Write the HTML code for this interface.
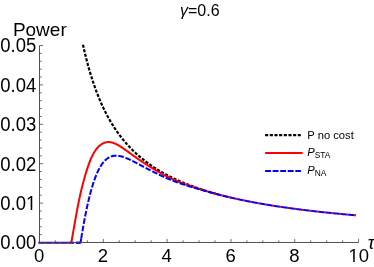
<!DOCTYPE html>
<html><head><meta charset="utf-8"><title>plot</title>
<style>
html,body{margin:0;padding:0;background:#fff;}
body{width:374px;height:267px;overflow:hidden;}
svg{display:block;will-change:transform;}
text{font-family:"Liberation Sans",sans-serif;fill:#000;}
.tk{font-size:18.5px;}
.ax line{stroke:#3d3d3d;stroke-width:0.9;}
.ax line.t{stroke:#4a4a4a;stroke-width:0.8;}
.crv{fill:none;stroke-width:2;}
</style></head><body>
<svg width="374" height="267" viewBox="0 0 374 267">
<rect width="374" height="267" fill="#fff"/>
<path class="crv" stroke="#000" style="stroke-width:2.2" stroke-dasharray="3.1 1.57" d="M82.98 44.71 L83.20 45.73 L83.43 46.74 L83.66 47.74 L83.88 48.73 L84.11 49.71 L84.33 50.68 L84.56 51.64 L84.78 52.59 L85.01 53.53 L85.23 54.46 L85.46 55.38 L85.68 56.29 L85.91 57.20 L86.13 58.09 L86.36 58.98 L86.58 59.86 L86.81 60.73 L87.04 61.59 L87.26 62.44 L87.49 63.29 L87.71 64.13 L87.94 64.96 L88.16 65.78 L88.39 66.59 L88.61 67.40 L88.84 68.20 L89.06 68.99 L89.29 69.78 L89.51 70.56 L89.74 71.33 L89.97 72.09 L90.19 72.85 L90.42 73.60 L90.64 74.35 L90.87 75.08 L91.09 75.81 L91.32 76.54 L91.54 77.26 L91.77 77.97 L91.99 78.68 L92.22 79.38 L92.44 80.07 L92.67 80.76 L92.89 81.44 L93.12 82.12 L93.35 82.79 L93.57 83.46 L93.80 84.12 L94.02 84.77 L94.25 85.42 L94.47 86.06 L94.70 86.70 L94.92 87.34 L95.15 87.97 L95.37 88.59 L95.60 89.21 L95.82 89.82 L96.05 90.43 L96.28 91.03 L96.50 91.63 L96.73 92.23 L96.95 92.81 L97.18 93.40 L97.40 93.98 L97.63 94.56 L97.85 95.13 L98.08 95.69 L98.30 96.26 L98.53 96.82 L98.75 97.37 L98.98 97.92 L99.21 98.46 L99.43 99.01 L99.66 99.54 L99.88 100.08 L100.11 100.61 L100.33 101.13 L100.56 101.65 L100.78 102.17 L101.01 102.69 L101.23 103.20 L101.46 103.70 L101.68 104.21 L101.91 104.71 L102.13 105.20 L102.36 105.69 L102.59 106.18 L102.81 106.67 L103.04 107.15 L103.26 107.63 L103.49 108.10 L103.71 108.58 L103.94 109.04 L104.16 109.51 L104.39 109.97 L104.61 110.43 L104.84 110.88 L105.06 111.34 L105.29 111.79 L105.52 112.23 L105.74 112.68 L105.97 113.12 L106.19 113.55 L106.42 113.99 L106.64 114.42 L106.87 114.85 L107.09 115.27 L107.32 115.70 L107.54 116.12 L107.77 116.53 L107.99 116.95 L108.22 117.36 L108.44 117.77 L108.67 118.17 L108.90 118.58 L109.12 118.98 L109.35 119.38 L109.57 119.77 L109.80 120.17 L110.02 120.56 L110.25 120.95 L110.47 121.33 L110.70 121.72 L110.92 122.10 L111.15 122.48 L111.37 122.85 L111.60 123.23 L111.83 123.60 L112.05 123.97 L112.28 124.33 L112.50 124.70 L112.73 125.06 L112.95 125.42 L113.18 125.78 L113.40 126.14 L113.63 126.49 L113.85 126.84 L114.08 127.19 L114.30 127.54 L114.53 127.88 L114.75 128.23 L114.98 128.57 L115.21 128.91 L115.43 129.24 L115.66 129.58 L115.88 129.91 L116.11 130.24 L116.33 130.57 L116.56 130.90 L116.78 131.23 L117.01 131.55 L117.23 131.87 L117.46 132.19 L117.68 132.51 L117.91 132.83 L118.14 133.14 L118.36 133.45 L118.59 133.76 L118.81 134.07 L119.04 134.38 L119.26 134.68 L119.49 134.99 L119.71 135.29 L119.94 135.59 L120.16 135.89 L120.39 136.19 L120.61 136.48 L120.84 136.78 L121.07 137.07 L121.29 137.36 L121.52 137.65 L121.74 137.93 L121.97 138.22 L122.19 138.50 L122.42 138.79 L122.64 139.07 L122.87 139.35 L123.09 139.63 L123.32 139.90 L123.54 140.18 L123.77 140.45 L123.99 140.72 L124.22 140.99 L124.45 141.26 L124.67 141.53 L124.90 141.80 L125.12 142.06 L125.35 142.33 L125.57 142.59 L125.80 142.85 L126.02 143.11 L126.25 143.37 L126.47 143.62 L126.70 143.88 L126.92 144.13 L127.15 144.39 L127.38 144.64 L127.60 144.89 L127.83 145.14 L128.05 145.39 L128.28 145.63 L128.50 145.88 L128.73 146.12 L128.95 146.36 L129.18 146.61 L129.40 146.85 L129.63 147.09 L129.85 147.32 L130.08 147.56 L130.30 147.80 L130.53 148.03 L130.76 148.26 L130.98 148.50 L131.21 148.73 L131.43 148.96 L131.66 149.19 L131.88 149.41 L132.11 149.64 L132.33 149.86 L132.56 150.09 L132.78 150.31 L133.01 150.53 L133.23 150.76 L133.46 150.98 L133.69 151.19 L133.91 151.41 L134.14 151.63 L134.36 151.85 L134.59 152.06 L134.81 152.27 L135.04 152.49 L135.26 152.70 L135.49 152.91 L135.71 153.12 L135.94 153.33 L136.16 153.54 L136.39 153.74 L136.62 153.95 L136.84 154.15 L137.07 154.36 L137.29 154.56 L137.52 154.76 L137.74 154.96 L137.97 155.17 L138.19 155.36 L138.42 155.56 L138.64 155.76 L138.87 155.96 L139.09 156.15 L139.32 156.35 L139.54 156.54 L139.77 156.74 L140.00 156.93 L140.22 157.12 L140.45 157.31 L140.67 157.50 L140.90 157.69 L141.12 157.88 L141.35 158.06 L141.57 158.25 L141.80 158.44 L142.02 158.62 L142.25 158.80 L142.47 158.99 L142.70 159.17 L142.93 159.35 L143.15 159.53 L143.38 159.71 L143.60 159.89 L143.83 160.07 L144.05 160.25 L144.28 160.42 L144.50 160.60 L144.73 160.78 L144.95 160.95 L145.18 161.12 L145.40 161.30 L145.63 161.47 L145.85 161.64 L146.08 161.81 L146.31 161.98 L146.53 162.15 L146.76 162.32 L146.98 162.49 L147.21 162.66 L147.43 162.82 L147.66 162.99 L147.88 163.16 L148.11 163.32 L148.33 163.48 L148.56 163.65 L148.78 163.81 L149.01 163.97 L149.24 164.13 L149.46 164.29 L149.69 164.45 L149.91 164.61 L150.14 164.77 L150.36 164.93 L150.59 165.09 L150.81 165.24 L151.04 165.40 L151.26 165.56 L151.49 165.71 L151.71 165.86 L151.94 166.02 L152.17 166.17 L152.39 166.32 L152.62 166.48 L152.84 166.63 L153.07 166.78 L153.29 166.93 L153.52 167.08 L153.74 167.22 L153.97 167.37 L154.19 167.52 L154.42 167.67 L154.64 167.81 L154.87 167.96 L155.09 168.11 L155.32 168.25 L155.55 168.39 L155.77 168.54 L156.00 168.68 L156.22 168.82 L156.45 168.97 L156.67 169.11 L156.90 169.25 L157.12 169.39 L157.35 169.53 L157.57 169.67 L157.80 169.81 L158.02 169.94 L158.25 170.08 L158.48 170.22 L158.70 170.36 L158.93 170.49 L159.15 170.63 L159.38 170.76 L159.60 170.90 L159.83 171.03 L160.05 171.17 L160.28 171.30 L160.50 171.43 L160.73 171.56 L160.95 171.69 L161.18 171.83 L161.40 171.96 L161.63 172.09 L161.86 172.22 L162.08 172.35 L162.31 172.47 L162.53 172.60 L162.76 172.73 L162.98 172.86 L163.21 172.98 L163.43 173.11 L163.66 173.24 L163.88 173.36 L164.11 173.49 L164.33 173.61 L164.56 173.74 L164.79 173.86 L165.01 173.98 L165.24 174.11 L165.46 174.23 L165.69 174.35 L165.91 174.47 L166.14 174.59 L166.36 174.71 L166.59 174.83 L166.81 174.95 L167.04 175.07 L167.26 175.19 L167.49 175.31 L167.71 175.43 L167.94 175.55 L168.17 175.66 L168.39 175.78 L168.62 175.90 L168.84 176.01 L169.07 176.13 L169.29 176.24 L169.52 176.36 L169.74 176.47 L169.97 176.59 L170.19 176.70 L170.42 176.81 L170.64 176.93 L170.87 177.04 L171.10 177.15 L171.32 177.26 L171.55 177.37 L171.77 177.49 L172.00 177.60 L172.22 177.71 L172.45 177.82 L172.67 177.93 L172.90 178.03 L173.12 178.14 L173.35 178.25 L173.57 178.36 L173.80 178.47 L174.03 178.57 L174.25 178.68 L174.48 178.79 L174.70 178.89 L174.93 179.00 L175.15 179.11 L175.38 179.21 L175.60 179.32 L175.83 179.42 L176.05 179.52 L176.28 179.63 L176.50 179.73 L176.73 179.83 L176.95 179.94 L177.18 180.04 L177.41 180.14 L177.63 180.24 L177.86 180.34 L178.08 180.45 L178.31 180.55 L178.53 180.65 L178.76 180.75 L178.98 180.85 L179.21 180.95 L179.43 181.05 L179.66 181.14 L179.88 181.24 L180.11 181.34 L180.34 181.44 L180.56 181.54 L180.79 181.63 L181.01 181.73 L181.24 181.83 L181.46 181.92 L181.69 182.02 L181.91 182.11 L182.14 182.21 L182.36 182.31 L182.59 182.40 L182.81 182.49 L183.04 182.59 L183.26 182.68 L183.49 182.78 L183.72 182.87 L183.94 182.96 L184.17 183.06 L184.39 183.15 L184.62 183.24 L184.84 183.33 L185.07 183.42 L185.29 183.51 L185.52 183.61 L185.74 183.70 L185.97 183.79 L186.19 183.88 L186.42 183.97 L186.65 184.06 L186.87 184.15 L187.10 184.24 L187.32 184.32 L187.55 184.41 L187.77 184.50 L188.00 184.59 L188.22 184.68 L188.45 184.76 L188.67 184.85 L188.90 184.94 L189.12 185.03 L189.35 185.11 L189.58 185.20 L189.80 185.28 L190.03 185.37 L190.25 185.45 L190.48 185.54 L190.70 185.62 L190.93 185.71 L191.15 185.79 L191.38 185.88 L191.60 185.96 L191.83 186.05 L192.05 186.13 L192.28 186.21 L192.50 186.30 L192.73 186.38 L192.96 186.46 L193.18 186.54 L193.41 186.62 L193.63 186.71 L193.86 186.79 L194.08 186.87 L194.31 186.95 L194.53 187.03 L194.76 187.11 L194.98 187.19 L195.21 187.27 L195.43 187.35 L195.66 187.43 L195.89 187.51 L196.11 187.59 L196.34 187.67 L196.56 187.75 L196.79 187.83 L197.01 187.90 L197.24 187.98 L197.46 188.06 L197.69 188.14 L197.91 188.21 L198.14 188.29 L198.36 188.37 L198.59 188.44 L198.81 188.52 L199.04 188.60 L199.27 188.67 L199.49 188.75 L199.72 188.82 L199.94 188.90 L200.17 188.98 L200.39 189.05 L200.62 189.13 L200.84 189.20 L201.07 189.27 L201.29 189.35 L201.52 189.42 L201.74 189.50 L201.97 189.57 L202.20 189.64 L202.42 189.72 L202.65 189.79 L202.87 189.86 L203.10 189.93 L203.32 190.01 L203.55 190.08 L203.77 190.15 L204.00 190.22 L204.22 190.29 L204.45 190.36 L204.67 190.44 L204.90 190.51 L205.13 190.58 L205.35 190.65 L205.58 190.72 L205.80 190.79 L206.03 190.86 L206.25 190.93 L206.48 191.00 L206.70 191.07 L206.93 191.14 L207.15 191.21 L207.38 191.27 L207.60 191.34 L207.83 191.41 L208.05 191.48 L208.28 191.55 L208.51 191.62 L208.73 191.68 L208.96 191.75 L209.18 191.82 L209.41 191.89 L209.63 191.95 L209.86 192.02 L210.08 192.09 L210.31 192.15 L210.53 192.22 L210.76 192.29 L210.98 192.35 L211.21 192.42 L211.44 192.48 L211.66 192.55 L211.89 192.61 L212.11 192.68 L212.34 192.74 L212.56 192.81 L212.79 192.87 L213.01 192.94 L213.24 193.00 L213.46 193.07 L213.69 193.13 L213.91 193.19 L214.14 193.26 L214.36 193.32 L214.59 193.38 L214.82 193.45 L215.04 193.51 L215.27 193.57 L215.49 193.64 L215.72 193.70 L215.94 193.76 L216.17 193.82 L216.39 193.89 L216.62 193.95 L216.84 194.01 L217.07 194.07 L217.29 194.13 L217.52 194.19 L217.75 194.25 L217.97 194.31 L218.20 194.38"/>
<path class="crv" stroke="#f00" stroke-dasharray="2.41 5.10" stroke-dashoffset="-5.40" d="M38.45 242.75 L71.41 242.75"/>
<path class="crv" stroke="#f00" d="M71.41 242.17 L71.73 240.31 L72.05 238.47 L72.37 236.63 L72.69 234.80 L73.01 232.97 L73.32 231.15 L73.64 229.33 L73.96 227.53 L74.28 225.73 L74.60 223.94 L74.92 222.15 L75.24 220.38 L75.56 218.61 L75.88 216.85 L76.20 215.10 L76.52 213.36 L76.83 211.63 L77.15 209.92 L77.47 208.22 L77.79 206.54 L78.11 204.89 L78.43 203.27 L78.75 201.67 L79.07 200.11 L79.39 198.59 L79.71 197.10 L80.03 195.64 L80.34 194.21 L80.66 192.81 L80.98 191.44 L81.30 190.10 L81.62 188.78 L81.94 187.48 L82.26 186.21 L82.58 184.96 L82.90 183.73 L83.22 182.51 L83.54 181.32 L83.85 180.15 L84.17 178.99 L84.49 177.85 L84.81 176.73 L85.13 175.63 L85.45 174.54 L85.77 173.47 L86.09 172.42 L86.41 171.39 L86.73 170.37 L87.05 169.38 L87.37 168.39 L87.68 167.43 L88.00 166.49 L88.32 165.56 L88.64 164.65 L88.96 163.77 L89.28 162.90 L89.60 162.06 L89.92 161.23 L90.24 160.43 L90.56 159.66 L90.88 158.90 L91.19 158.17 L91.51 157.46 L91.83 156.77 L92.15 156.10 L92.47 155.46 L92.79 154.84 L93.11 154.23 L93.43 153.65 L93.75 153.08 L94.07 152.53 L94.39 152.01 L94.70 151.50 L95.02 151.00 L95.34 150.53 L95.66 150.07 L95.98 149.62 L96.30 149.20 L96.62 148.79 L96.94 148.39 L97.26 148.01 L97.58 147.64 L97.90 147.29 L98.21 146.95 L98.53 146.63 L98.85 146.32 L99.17 146.02 L99.49 145.73 L99.81 145.46 L100.13 145.20 L100.45 144.95 L100.77 144.72 L101.09 144.49 L101.41 144.28 L101.72 144.07 L102.04 143.88 L102.36 143.70 L102.68 143.53 L103.00 143.37 L103.32 143.22 L103.64 143.08 L103.96 142.94 L104.28 142.82 L104.60 142.71 L104.92 142.61 L105.23 142.51 L105.55 142.43 L105.87 142.35 L106.19 142.28 L106.51 142.23 L106.83 142.18 L107.15 142.14 L107.47 142.11 L107.79 142.09 L108.11 142.07 L108.43 142.07 L108.74 142.07 L109.06 142.08 L109.38 142.10 L109.70 142.12 L110.02 142.16 L110.34 142.20 L110.66 142.25 L110.98 142.31 L111.30 142.37 L111.62 142.44 L111.94 142.52 L112.25 142.60 L112.57 142.69 L112.89 142.79 L113.21 142.89 L113.53 143.00 L113.85 143.11 L114.17 143.23 L114.49 143.36 L114.81 143.49 L115.13 143.62 L115.45 143.76 L115.76 143.91 L116.08 144.06 L116.40 144.21 L116.72 144.37 L117.04 144.54 L117.36 144.71 L117.68 144.88 L118.00 145.05 L118.32 145.23 L118.64 145.42 L118.96 145.60 L119.28 145.79 L119.59 145.99 L119.91 146.18 L120.23 146.38 L120.55 146.59 L120.87 146.79 L121.19 147.00 L121.51 147.21 L121.83 147.42 L122.15 147.63 L122.47 147.85 L122.79 148.06 L123.10 148.28 L123.42 148.50 L123.74 148.72 L124.06 148.95 L124.38 149.17 L124.70 149.39 L125.02 149.62 L125.34 149.85 L125.66 150.07 L125.98 150.30 L126.30 150.53 L126.61 150.76 L126.93 150.99 L127.25 151.22 L127.57 151.45 L127.89 151.68 L128.21 151.92 L128.53 152.15 L128.85 152.38 L129.17 152.61 L129.49 152.84 L129.81 153.08 L130.12 153.31 L130.44 153.54 L130.76 153.77 L131.08 154.00 L131.40 154.23 L131.72 154.46 L132.04 154.70 L132.36 154.93 L132.68 155.16 L133.00 155.39 L133.32 155.62 L133.63 155.84 L133.95 156.07 L134.27 156.30 L134.59 156.53 L134.91 156.76 L135.23 156.98 L135.55 157.21 L135.87 157.43 L136.19 157.66 L136.51 157.88 L136.83 158.11 L137.14 158.33 L137.46 158.55 L137.78 158.77 L138.10 159.00 L138.42 159.22 L138.74 159.44 L139.06 159.65 L139.38 159.87 L139.70 160.09 L140.02 160.31 L140.34 160.52 L140.65 160.74 L140.97 160.95 L141.29 161.17 L141.61 161.38 L141.93 161.59 L142.25 161.81 L142.57 162.02 L142.89 162.23 L143.21 162.44 L143.53 162.65 L143.85 162.86 L144.16 163.07 L144.48 163.28 L144.80 163.48 L145.12 163.69 L145.44 163.90 L145.76 164.10 L146.08 164.31 L146.40 164.51 L146.72 164.71 L147.04 164.92 L147.36 165.12 L147.67 165.32 L147.99 165.52 L148.31 165.72 L148.63 165.92 L148.95 166.12 L149.27 166.32 L149.59 166.52 L149.91 166.72 L150.23 166.91 L150.55 167.11 L150.87 167.31 L151.19 167.50 L151.50 167.70 L151.82 167.89 L152.14 168.08 L152.46 168.28 L152.78 168.47 L153.10 168.66 L153.42 168.85 L153.74 169.04 L154.06 169.23 L154.38 169.42 L154.70 169.61 L155.01 169.80 L155.33 169.99 L155.65 170.17 L155.97 170.36 L156.29 170.55 L156.61 170.73 L156.93 170.92 L157.25 171.10 L157.57 171.28 L157.89 171.47 L158.21 171.65 L158.52 171.83 L158.84 172.01 L159.16 172.20 L159.48 172.38 L159.80 172.56 L160.12 172.74 L160.44 172.91 L160.76 173.09 L161.08 173.27 L161.40 173.45 L161.72 173.62 L162.03 173.80 L162.35 173.97 L162.67 174.15 L162.99 174.32 L163.31 174.49 L163.63 174.67 L163.95 174.84 L164.27 175.01 L164.59 175.18 L164.91 175.35 L165.23 175.51 L165.54 175.68 L165.86 175.85 L166.18 176.01 L166.50 176.18 L166.82 176.34 L167.14 176.50 L167.46 176.67 L167.78 176.83 L168.10 176.99 L168.42 177.15 L168.74 177.31 L169.05 177.46 L169.37 177.62 L169.69 177.78 L170.01 177.93 L170.33 178.08 L170.65 178.24 L170.97 178.39 L171.29 178.54 L171.61 178.69 L171.93 178.84 L172.25 178.98 L172.56 179.13 L172.88 179.28 L173.20 179.42 L173.52 179.56 L173.84 179.71 L174.16 179.85 L174.48 179.99 L174.80 180.13 L175.12 180.27 L175.44 180.40 L175.76 180.54 L176.07 180.68 L176.39 180.81 L176.71 180.94 L177.03 181.07 L177.35 181.21 L177.67 181.34 L177.99 181.47 L178.31 181.59 L178.63 181.72 L178.95 181.85 L179.27 181.97 L179.58 182.10 L179.90 182.22 L180.22 182.34 L180.54 182.47 L180.86 182.59 L181.18 182.71 L181.50 182.83 L181.82 182.95 L182.14 183.07 L182.46 183.18 L182.78 183.30 L183.09 183.42 L183.41 183.54 L183.73 183.65 L184.05 183.77 L184.37 183.88 L184.69 184.00 L185.01 184.11 L185.33 184.23 L185.65 184.34 L185.97 184.45 L186.29 184.56 L186.61 184.68 L186.92 184.79 L187.24 184.90 L187.56 185.01 L187.88 185.12 L188.20 185.23 L188.52 185.34 L188.84 185.45 L189.16 185.56 L189.48 185.67 L189.80 185.78 L190.12 185.89 L190.43 186.00 L190.75 186.11 L191.07 186.22 L191.39 186.32 L191.71 186.43 L192.03 186.54 L192.35 186.65 L192.67 186.75 L192.99 186.86 L193.31 186.97 L193.63 187.07 L193.94 187.18 L194.26 187.29 L194.58 187.39 L194.90 187.50 L195.22 187.60 L195.54 187.71 L195.86 187.81 L196.18 187.92 L196.50 188.02 L196.82 188.12 L197.14 188.23 L197.45 188.33 L197.77 188.44 L198.09 188.54 L198.41 188.64 L198.73 188.74 L199.05 188.85 L199.37 188.95 L199.69 189.05 L200.01 189.15 L200.33 189.25 L200.65 189.35 L200.96 189.45 L201.28 189.55 L201.60 189.65 L201.92 189.75 L202.24 189.85 L202.56 189.95 L202.88 190.05 L203.20 190.15 L203.52 190.25 L203.84 190.35 L204.16 190.44 L204.47 190.54 L204.79 190.64 L205.11 190.73 L205.43 190.83 L205.75 190.93 L206.07 191.02 L206.39 191.12 L206.71 191.21 L207.03 191.31 L207.35 191.40 L207.67 191.50 L207.98 191.59 L208.30 191.68 L208.62 191.78 L208.94 191.87 L209.26 191.96 L209.58 192.06 L209.90 192.15 L210.22 192.24 L210.54 192.33 L210.86 192.42 L211.18 192.51 L211.49 192.60 L211.81 192.69 L212.13 192.78 L212.45 192.87 L212.77 192.96 L213.09 193.05 L213.41 193.14 L213.73 193.23 L214.05 193.32 L214.37 193.41 L214.69 193.49 L215.00 193.58 L215.32 193.67 L215.64 193.76 L215.96 193.84 L216.28 193.93 L216.60 194.01 L216.92 194.10 L217.24 194.19 L217.56 194.27 L217.88 194.36 L218.20 194.44 L218.52 194.52 L218.83 194.61 L219.15 194.69 L219.47 194.78 L219.79 194.86 L220.11 194.94 L220.43 195.03 L220.75 195.11 L221.07 195.19 L221.39 195.27 L221.71 195.35 L222.03 195.43 L222.34 195.52 L222.66 195.60 L222.98 195.68 L223.30 195.76 L223.62 195.84 L223.94 195.92 L224.26 196.00 L224.58 196.08 L224.90 196.16 L225.22 196.23 L225.54 196.31 L225.85 196.39 L226.17 196.47 L226.49 196.55 L226.81 196.62 L227.13 196.70 L227.45 196.78 L227.77 196.86 L228.09 196.93 L228.41 197.01 L228.73 197.09 L229.05 197.16 L229.36 197.24 L229.68 197.31 L230.00 197.39 L230.32 197.46 L230.64 197.54 L230.96 197.61"/>
<path class="crv" stroke="#f00" stroke-dasharray="2.400 5.080" stroke-dashoffset="-4.42" d="M230.96 197.61 L231.38 197.70 L231.79 197.80 L232.21 197.90 L232.63 197.99 L233.04 198.09 L233.46 198.18 L233.88 198.28 L234.30 198.37 L234.71 198.46 L235.13 198.56 L235.55 198.65 L235.96 198.74 L236.38 198.83 L236.80 198.93 L237.21 199.02 L237.63 199.11 L238.05 199.20 L238.47 199.29 L238.88 199.38 L239.30 199.47 L239.72 199.56 L240.13 199.65 L240.55 199.74 L240.97 199.82 L241.38 199.91 L241.80 200.00 L242.22 200.09 L242.63 200.17 L243.05 200.26 L243.47 200.35 L243.89 200.43 L244.30 200.52 L244.72 200.60 L245.14 200.69 L245.55 200.77 L245.97 200.85 L246.39 200.94 L246.80 201.02 L247.22 201.11 L247.64 201.19 L248.06 201.27 L248.47 201.35 L248.89 201.43 L249.31 201.52 L249.72 201.60 L250.14 201.68 L250.56 201.76 L250.97 201.84 L251.39 201.92 L251.81 202.00 L252.22 202.08 L252.64 202.16 L253.06 202.23 L253.48 202.31 L253.89 202.39 L254.31 202.47 L254.73 202.55 L255.14 202.62 L255.56 202.70 L255.98 202.78 L256.39 202.85 L256.81 202.93 L257.23 203.00 L257.65 203.08 L258.06 203.16 L258.48 203.23 L258.90 203.30 L259.31 203.38 L259.73 203.45 L260.15 203.53 L260.56 203.60 L260.98 203.67 L261.40 203.75 L261.81 203.82 L262.23 203.89 L262.65 203.96 L263.07 204.04 L263.48 204.11 L263.90 204.18 L264.32 204.25 L264.73 204.32 L265.15 204.39 L265.57 204.46 L265.98 204.53 L266.40 204.60 L266.82 204.67 L267.24 204.74 L267.65 204.81 L268.07 204.88 L268.49 204.95 L268.90 205.01 L269.32 205.08 L269.74 205.15 L270.15 205.22 L270.57 205.28 L270.99 205.35 L271.40 205.42 L271.82 205.48 L272.24 205.55 L272.66 205.62 L273.07 205.68 L273.49 205.75 L273.91 205.81 L274.32 205.88 L274.74 205.94 L275.16 206.01 L275.57 206.07 L275.99 206.14 L276.41 206.20 L276.83 206.26 L277.24 206.33 L277.66 206.39 L278.08 206.45 L278.49 206.52 L278.91 206.58 L279.33 206.64 L279.74 206.70 L280.16 206.77 L280.58 206.83 L280.99 206.89 L281.41 206.95 L281.83 207.01 L282.25 207.07 L282.66 207.13 L283.08 207.19 L283.50 207.26 L283.91 207.32 L284.33 207.38 L284.75 207.44 L285.16 207.49 L285.58 207.55 L286.00 207.61 L286.42 207.67 L286.83 207.73 L287.25 207.79 L287.67 207.85 L288.08 207.91 L288.50 207.96 L288.92 208.02 L289.33 208.08 L289.75 208.14 L290.17 208.19 L290.58 208.25 L291.00 208.31 L291.42 208.36 L291.84 208.42 L292.25 208.48 L292.67 208.53 L293.09 208.59 L293.50 208.64 L293.92 208.70 L294.34 208.75 L294.75 208.81 L295.17 208.86 L295.59 208.92 L296.01 208.97 L296.42 209.03 L296.84 209.08 L297.26 209.14 L297.67 209.19 L298.09 209.24 L298.51 209.30 L298.92 209.35 L299.34 209.40 L299.76 209.46 L300.17 209.51 L300.59 209.56 L301.01 209.62 L301.43 209.67 L301.84 209.72 L302.26 209.77 L302.68 209.82 L303.09 209.88 L303.51 209.93 L303.93 209.98 L304.34 210.03 L304.76 210.08 L305.18 210.13 L305.60 210.18 L306.01 210.23 L306.43 210.28 L306.85 210.33 L307.26 210.38 L307.68 210.43 L308.10 210.48 L308.51 210.53 L308.93 210.58 L309.35 210.63 L309.76 210.68 L310.18 210.73 L310.60 210.78 L311.02 210.83 L311.43 210.88 L311.85 210.92 L312.27 210.97 L312.68 211.02 L313.10 211.07 L313.52 211.12 L313.93 211.16 L314.35 211.21 L314.77 211.26 L315.19 211.31 L315.60 211.35 L316.02 211.40 L316.44 211.45 L316.85 211.49 L317.27 211.54 L317.69 211.59 L318.10 211.63 L318.52 211.68 L318.94 211.73 L319.35 211.77 L319.77 211.82 L320.19 211.86 L320.61 211.91 L321.02 211.95 L321.44 212.00 L321.86 212.04 L322.27 212.09 L322.69 212.13 L323.11 212.18 L323.52 212.22 L323.94 212.27 L324.36 212.31 L324.78 212.36 L325.19 212.40 L325.61 212.44 L326.03 212.49 L326.44 212.53 L326.86 212.57 L327.28 212.62 L327.69 212.66 L328.11 212.70 L328.53 212.75 L328.94 212.79 L329.36 212.83 L329.78 212.87 L330.20 212.92 L330.61 212.96 L331.03 213.00 L331.45 213.04 L331.86 213.09 L332.28 213.13 L332.70 213.17 L333.11 213.21 L333.53 213.25 L333.95 213.29 L334.37 213.34 L334.78 213.38 L335.20 213.42 L335.62 213.46 L336.03 213.50 L336.45 213.54 L336.87 213.58 L337.28 213.62 L337.70 213.66 L338.12 213.70 L338.53 213.74 L338.95 213.78 L339.37 213.82 L339.79 213.86 L340.20 213.90 L340.62 213.94 L341.04 213.98 L341.45 214.02 L341.87 214.06 L342.29 214.10 L342.70 214.14 L343.12 214.18 L343.54 214.22 L343.96 214.25 L344.37 214.29 L344.79 214.33 L345.21 214.37 L345.62 214.41 L346.04 214.45 L346.46 214.48 L346.87 214.52 L347.29 214.56 L347.71 214.60 L348.13 214.64 L348.54 214.67 L348.96 214.71 L349.38 214.75 L349.79 214.79 L350.21 214.82 L350.63 214.86 L351.04 214.90 L351.46 214.93 L351.88 214.97 L352.29 215.01 L352.71 215.04 L353.13 215.08 L353.55 215.12 L353.96 215.15 L354.38 215.19 L354.80 215.23 L355.21 215.26 L355.63 215.30 L356.05 215.33"/>
<path class="crv" stroke="#0000ff" stroke-dasharray="5.70 1.81" d="M38.45 242.75 L80.60 242.75"/>
<path class="crv" stroke="#0000ff" stroke-linejoin="round" d="M75.90 242.75 L80.60 242.40 L80.65 242.08 L80.70 241.76 L80.75 241.45 L80.80 241.13 L80.85 240.82 L80.90 240.50 L80.95 240.19 L81.00 239.87 L81.05 239.56 L81.10 239.25 L81.15 238.94 L81.20 238.63"/>
<path class="crv" stroke="#0000ff" stroke-dasharray="5.680 1.800" d="M81.20 238.63 L81.50 236.78 L81.80 234.95 L82.10 233.15 L82.40 231.37 L82.71 229.62 L83.01 227.89 L83.31 226.18 L83.61 224.50 L83.91 222.85 L84.21 221.22 L84.51 219.61 L84.81 218.03 L85.11 216.48 L85.41 214.94 L85.71 213.44 L86.01 211.95 L86.31 210.49 L86.61 209.06 L86.92 207.65 L87.22 206.26 L87.52 204.90 L87.82 203.56 L88.12 202.24 L88.42 200.95 L88.72 199.69 L89.02 198.44 L89.32 197.22 L89.62 196.02 L89.92 194.84 L90.22 193.69 L90.52 192.56 L90.82 191.45 L91.13 190.36 L91.43 189.30 L91.73 188.26 L92.03 187.24 L92.33 186.24 L92.63 185.26 L92.93 184.30 L93.23 183.36 L93.53 182.45 L93.83 181.55 L94.13 180.67 L94.43 179.82 L94.73 178.98 L95.03 178.16 L95.34 177.36 L95.64 176.58 L95.94 175.82 L96.24 175.08 L96.54 174.36 L96.84 173.65 L97.14 172.96 L97.44 172.29 L97.74 171.64 L98.04 171.00 L98.34 170.38 L98.64 169.78 L98.94 169.19 L99.24 168.62 L99.55 168.07 L99.85 167.53 L100.15 167.01 L100.45 166.50 L100.75 166.00 L101.05 165.53 L101.35 165.06 L101.65 164.61 L101.95 164.18 L102.25 163.75 L102.55 163.34 L102.85 162.95 L103.15 162.57 L103.45 162.20 L103.76 161.84 L104.06 161.50 L104.36 161.16 L104.66 160.84 L104.96 160.54 L105.26 160.24 L105.56 159.95 L105.86 159.68 L106.16 159.42 L106.46 159.16 L106.76 158.92 L107.06 158.69 L107.36 158.47 L107.66 158.26 L107.97 158.06 L108.27 157.87 L108.57 157.68 L108.87 157.51 L109.17 157.35 L109.47 157.19 L109.77 157.04 L110.07 156.91 L110.37 156.78 L110.67 156.66 L110.97 156.54 L111.27 156.44 L111.57 156.34 L111.87 156.25 L112.18 156.16 L112.48 156.09 L112.78 156.02 L113.08 155.96 L113.38 155.90 L113.68 155.85 L113.98 155.81 L114.28 155.77 L114.58 155.74 L114.88 155.72 L115.18 155.70 L115.48 155.69 L115.78 155.68 L116.08 155.68 L116.39 155.68 L116.69 155.69 L116.99 155.71 L117.29 155.73 L117.59 155.75 L117.89 155.78 L118.19 155.81 L118.49 155.85 L118.79 155.89 L119.09 155.94 L119.39 155.99 L119.69 156.05 L119.99 156.10 L120.30 156.17 L120.60 156.23 L120.90 156.30 L121.20 156.38 L121.50 156.45 L121.80 156.53 L122.10 156.62 L122.40 156.71 L122.70 156.80 L123.00 156.89 L123.30 156.98 L123.60 157.08 L123.90 157.19 L124.20 157.29 L124.51 157.40 L124.81 157.51 L125.11 157.62 L125.41 157.73 L125.71 157.85 L126.01 157.97 L126.31 158.09 L126.61 158.22 L126.91 158.34 L127.21 158.47 L127.51 158.60 L127.81 158.73 L128.11 158.86 L128.41 159.00 L128.72 159.13 L129.02 159.27 L129.32 159.41 L129.62 159.55 L129.92 159.69 L130.22 159.83 L130.52 159.97 L130.82 160.12 L131.12 160.27 L131.42 160.41 L131.72 160.56 L132.02 160.71 L132.32 160.86 L132.62 161.01 L132.93 161.16 L133.23 161.31 L133.53 161.47 L133.83 161.62 L134.13 161.77 L134.43 161.93 L134.73 162.09 L135.03 162.24 L135.33 162.40 L135.63 162.55 L135.93 162.71 L136.23 162.87 L136.53 163.03 L136.83 163.19 L137.14 163.35 L137.44 163.50 L137.74 163.66 L138.04 163.82 L138.34 163.98 L138.64 164.14 L138.94 164.30 L139.24 164.46 L139.54 164.62 L139.84 164.78 L140.14 164.95 L140.44 165.11 L140.74 165.27 L141.04 165.43 L141.35 165.59 L141.65 165.75 L141.95 165.91 L142.25 166.07 L142.55 166.23 L142.85 166.39 L143.15 166.55 L143.45 166.71 L143.75 166.87 L144.05 167.03 L144.35 167.19 L144.65 167.35 L144.95 167.51 L145.25 167.67 L145.56 167.83 L145.86 167.99 L146.16 168.15 L146.46 168.31 L146.76 168.47 L147.06 168.63 L147.36 168.78 L147.66 168.94 L147.96 169.10 L148.26 169.26 L148.56 169.41 L148.86 169.57 L149.16 169.73 L149.46 169.88 L149.77 170.04 L150.07 170.19 L150.37 170.35 L150.67 170.50 L150.97 170.66 L151.27 170.81 L151.57 170.97 L151.87 171.12 L152.17 171.27 L152.47 171.43 L152.77 171.58 L153.07 171.73 L153.37 171.88 L153.67 172.03 L153.98 172.18 L154.28 172.33 L154.58 172.48 L154.88 172.63 L155.18 172.78 L155.48 172.93 L155.78 173.08 L156.08 173.23 L156.38 173.38 L156.68 173.52 L156.98 173.67 L157.28 173.82 L157.58 173.96 L157.89 174.11 L158.19 174.25 L158.49 174.40 L158.79 174.54 L159.09 174.69 L159.39 174.83 L159.69 174.97 L159.99 175.11 L160.29 175.26 L160.59 175.40 L160.89 175.54 L161.19 175.68 L161.49 175.82 L161.79 175.96 L162.10 176.10 L162.40 176.24 L162.70 176.37 L163.00 176.51 L163.30 176.65 L163.60 176.79 L163.90 176.92 L164.20 177.06 L164.50 177.19 L164.80 177.32 L165.10 177.46 L165.40 177.59 L165.70 177.72 L166.00 177.86 L166.31 177.99 L166.61 178.12 L166.91 178.25 L167.21 178.38 L167.51 178.51 L167.81 178.63 L168.11 178.76 L168.41 178.89 L168.71 179.01 L169.01 179.14 L169.31 179.27 L169.61 179.39 L169.91 179.51 L170.21 179.64 L170.52 179.76 L170.82 179.88 L171.12 180.00 L171.42 180.12 L171.72 180.24 L172.02 180.36 L172.32 180.48 L172.62 180.60 L172.92 180.72 L173.22 180.83 L173.52 180.95 L173.82 181.07 L174.12 181.18 L174.42 181.30 L174.73 181.41 L175.03 181.52 L175.33 181.64 L175.63 181.75 L175.93 181.86 L176.23 181.97 L176.53 182.08 L176.83 182.19 L177.13 182.30 L177.43 182.41 L177.73 182.52 L178.03 182.63 L178.33 182.73 L178.63 182.84 L178.94 182.95 L179.24 183.05 L179.54 183.16 L179.84 183.26 L180.14 183.37 L180.44 183.47 L180.74 183.57 L181.04 183.67 L181.34 183.78 L181.64 183.88 L181.94 183.98 L182.24 184.08 L182.54 184.18 L182.84 184.28 L183.15 184.38 L183.45 184.48 L183.75 184.57 L184.05 184.67 L184.35 184.77 L184.65 184.87 L184.95 184.96 L185.25 185.06 L185.55 185.15 L185.85 185.25 L186.15 185.34 L186.45 185.44 L186.75 185.53 L187.05 185.63 L187.36 185.72 L187.66 185.81 L187.96 185.91 L188.26 186.00 L188.56 186.09 L188.86 186.18 L189.16 186.27 L189.46 186.37 L189.76 186.46 L190.06 186.55 L190.36 186.64 L190.66 186.73 L190.96 186.82 L191.26 186.91 L191.57 187.00 L191.87 187.09 L192.17 187.18 L192.47 187.26 L192.77 187.35 L193.07 187.44 L193.37 187.53 L193.67 187.62 L193.97 187.70 L194.27 187.79 L194.57 187.88 L194.87 187.97 L195.17 188.05 L195.48 188.14 L195.78 188.23 L196.08 188.31 L196.38 188.40 L196.68 188.49 L196.98 188.57 L197.28 188.66 L197.58 188.75 L197.88 188.83 L198.18 188.92 L198.48 189.00 L198.78 189.09 L199.08 189.17 L199.38 189.26 L199.69 189.34 L199.99 189.43 L200.29 189.51 L200.59 189.60 L200.89 189.68 L201.19 189.77 L201.49 189.85 L201.79 189.94 L202.09 190.03 L202.39 190.11 L202.69 190.20 L202.99 190.28 L203.29 190.37 L203.59 190.45 L203.90 190.54 L204.20 190.62 L204.50 190.71 L204.80 190.79 L205.10 190.88 L205.40 190.96 L205.70 191.05 L206.00 191.13 L206.30 191.22 L206.60 191.30 L206.90 191.39 L207.20 191.47 L207.50 191.56 L207.80 191.64 L208.11 191.72 L208.41 191.81 L208.71 191.89 L209.01 191.98 L209.31 192.06 L209.61 192.14 L209.91 192.23 L210.21 192.31 L210.51 192.39 L210.81 192.48 L211.11 192.56 L211.41 192.64 L211.71 192.72 L212.01 192.81 L212.32 192.89 L212.62 192.97 L212.92 193.05 L213.22 193.13 L213.52 193.22 L213.82 193.30 L214.12 193.38 L214.42 193.46 L214.72 193.54 L215.02 193.62 L215.32 193.70 L215.62 193.78 L215.92 193.86 L216.22 193.94 L216.53 194.02 L216.83 194.10 L217.13 194.18 L217.43 194.26 L217.73 194.34 L218.03 194.42 L218.33 194.49 L218.63 194.57 L218.93 194.65 L219.23 194.73 L219.53 194.81 L219.83 194.88 L220.13 194.96 L220.43 195.04 L220.74 195.12 L221.04 195.19 L221.34 195.27 L221.64 195.35 L221.94 195.42 L222.24 195.50 L222.54 195.57 L222.84 195.65 L223.14 195.72 L223.44 195.80 L223.74 195.87 L224.04 195.95 L224.34 196.02 L224.64 196.10 L224.95 196.17 L225.25 196.24 L225.55 196.32 L225.85 196.39 L226.15 196.46 L226.45 196.54 L226.75 196.61 L227.05 196.68 L227.35 196.76 L227.65 196.83 L227.95 196.90 L228.25 196.97 L228.55 197.04 L228.85 197.11 L229.16 197.19 L229.46 197.26 L229.76 197.33 L230.06 197.40 L230.36 197.47 L230.66 197.54 L230.96 197.61 L231.38 197.70 L231.79 197.80 L232.21 197.90 L232.63 197.99 L233.04 198.09 L233.46 198.18 L233.88 198.28 L234.30 198.37 L234.71 198.46 L235.13 198.56 L235.55 198.65 L235.96 198.74 L236.38 198.83 L236.80 198.93 L237.21 199.02 L237.63 199.11 L238.05 199.20 L238.47 199.29 L238.88 199.38 L239.30 199.47 L239.72 199.56 L240.13 199.65 L240.55 199.74 L240.97 199.82 L241.38 199.91 L241.80 200.00 L242.22 200.09 L242.63 200.17 L243.05 200.26 L243.47 200.35 L243.89 200.43 L244.30 200.52 L244.72 200.60 L245.14 200.69 L245.55 200.77 L245.97 200.85 L246.39 200.94 L246.80 201.02 L247.22 201.11 L247.64 201.19 L248.06 201.27 L248.47 201.35 L248.89 201.43 L249.31 201.52 L249.72 201.60 L250.14 201.68 L250.56 201.76 L250.97 201.84 L251.39 201.92 L251.81 202.00 L252.22 202.08 L252.64 202.16 L253.06 202.23 L253.48 202.31 L253.89 202.39 L254.31 202.47 L254.73 202.55 L255.14 202.62 L255.56 202.70 L255.98 202.78 L256.39 202.85 L256.81 202.93 L257.23 203.00 L257.65 203.08 L258.06 203.16 L258.48 203.23 L258.90 203.30 L259.31 203.38 L259.73 203.45 L260.15 203.53 L260.56 203.60 L260.98 203.67 L261.40 203.75 L261.81 203.82 L262.23 203.89 L262.65 203.96 L263.07 204.04 L263.48 204.11 L263.90 204.18 L264.32 204.25 L264.73 204.32 L265.15 204.39 L265.57 204.46 L265.98 204.53 L266.40 204.60 L266.82 204.67 L267.24 204.74 L267.65 204.81 L268.07 204.88 L268.49 204.95 L268.90 205.01 L269.32 205.08 L269.74 205.15 L270.15 205.22 L270.57 205.28 L270.99 205.35 L271.40 205.42 L271.82 205.48 L272.24 205.55 L272.66 205.62 L273.07 205.68 L273.49 205.75 L273.91 205.81 L274.32 205.88 L274.74 205.94 L275.16 206.01 L275.57 206.07 L275.99 206.14 L276.41 206.20 L276.83 206.26 L277.24 206.33 L277.66 206.39 L278.08 206.45 L278.49 206.52 L278.91 206.58 L279.33 206.64 L279.74 206.70 L280.16 206.77 L280.58 206.83 L280.99 206.89 L281.41 206.95 L281.83 207.01 L282.25 207.07 L282.66 207.13 L283.08 207.19 L283.50 207.26 L283.91 207.32 L284.33 207.38 L284.75 207.44 L285.16 207.49 L285.58 207.55 L286.00 207.61 L286.42 207.67 L286.83 207.73 L287.25 207.79 L287.67 207.85 L288.08 207.91 L288.50 207.96 L288.92 208.02 L289.33 208.08 L289.75 208.14 L290.17 208.19 L290.58 208.25 L291.00 208.31 L291.42 208.36 L291.84 208.42 L292.25 208.48 L292.67 208.53 L293.09 208.59 L293.50 208.64 L293.92 208.70 L294.34 208.75 L294.75 208.81 L295.17 208.86 L295.59 208.92 L296.01 208.97 L296.42 209.03 L296.84 209.08 L297.26 209.14 L297.67 209.19 L298.09 209.24 L298.51 209.30 L298.92 209.35 L299.34 209.40 L299.76 209.46 L300.17 209.51 L300.59 209.56 L301.01 209.62 L301.43 209.67 L301.84 209.72 L302.26 209.77 L302.68 209.82 L303.09 209.88 L303.51 209.93 L303.93 209.98 L304.34 210.03 L304.76 210.08 L305.18 210.13 L305.60 210.18 L306.01 210.23 L306.43 210.28 L306.85 210.33 L307.26 210.38 L307.68 210.43 L308.10 210.48 L308.51 210.53 L308.93 210.58 L309.35 210.63 L309.76 210.68 L310.18 210.73 L310.60 210.78 L311.02 210.83 L311.43 210.88 L311.85 210.92 L312.27 210.97 L312.68 211.02 L313.10 211.07 L313.52 211.12 L313.93 211.16 L314.35 211.21 L314.77 211.26 L315.19 211.31 L315.60 211.35 L316.02 211.40 L316.44 211.45 L316.85 211.49 L317.27 211.54 L317.69 211.59 L318.10 211.63 L318.52 211.68 L318.94 211.73 L319.35 211.77 L319.77 211.82 L320.19 211.86 L320.61 211.91 L321.02 211.95 L321.44 212.00 L321.86 212.04 L322.27 212.09 L322.69 212.13 L323.11 212.18 L323.52 212.22 L323.94 212.27 L324.36 212.31 L324.78 212.36 L325.19 212.40 L325.61 212.44 L326.03 212.49 L326.44 212.53 L326.86 212.57 L327.28 212.62 L327.69 212.66 L328.11 212.70 L328.53 212.75 L328.94 212.79 L329.36 212.83 L329.78 212.87 L330.20 212.92 L330.61 212.96 L331.03 213.00 L331.45 213.04 L331.86 213.09 L332.28 213.13 L332.70 213.17 L333.11 213.21 L333.53 213.25 L333.95 213.29 L334.37 213.34 L334.78 213.38 L335.20 213.42 L335.62 213.46 L336.03 213.50 L336.45 213.54 L336.87 213.58 L337.28 213.62 L337.70 213.66 L338.12 213.70 L338.53 213.74 L338.95 213.78 L339.37 213.82 L339.79 213.86 L340.20 213.90 L340.62 213.94 L341.04 213.98 L341.45 214.02 L341.87 214.06 L342.29 214.10 L342.70 214.14 L343.12 214.18 L343.54 214.22 L343.96 214.25 L344.37 214.29 L344.79 214.33 L345.21 214.37 L345.62 214.41 L346.04 214.45 L346.46 214.48 L346.87 214.52 L347.29 214.56 L347.71 214.60 L348.13 214.64 L348.54 214.67 L348.96 214.71 L349.38 214.75 L349.79 214.79 L350.21 214.82 L350.63 214.86 L351.04 214.90 L351.46 214.93 L351.88 214.97 L352.29 215.01 L352.71 215.04 L353.13 215.08 L353.55 215.12 L353.96 215.15 L354.38 215.19 L354.80 215.23 L355.21 215.26 L355.63 215.30 L356.05 215.33"/>
<g class="ax">
<line x1="39.50" y1="45.50" x2="39.50" y2="242.50"/>
<line x1="39.50" y1="242.50" x2="358.60" y2="242.50"/>
<line class="t" x1="39.50" y1="242.50" x2="43.10" y2="242.50"/>
<line class="t" x1="39.50" y1="234.62" x2="41.70" y2="234.62"/>
<line class="t" x1="39.50" y1="226.74" x2="41.70" y2="226.74"/>
<line class="t" x1="39.50" y1="218.86" x2="41.70" y2="218.86"/>
<line class="t" x1="39.50" y1="210.98" x2="41.70" y2="210.98"/>
<line class="t" x1="39.50" y1="203.10" x2="43.10" y2="203.10"/>
<line class="t" x1="39.50" y1="195.22" x2="41.70" y2="195.22"/>
<line class="t" x1="39.50" y1="187.34" x2="41.70" y2="187.34"/>
<line class="t" x1="39.50" y1="179.46" x2="41.70" y2="179.46"/>
<line class="t" x1="39.50" y1="171.58" x2="41.70" y2="171.58"/>
<line class="t" x1="39.50" y1="163.70" x2="43.10" y2="163.70"/>
<line class="t" x1="39.50" y1="155.82" x2="41.70" y2="155.82"/>
<line class="t" x1="39.50" y1="147.94" x2="41.70" y2="147.94"/>
<line class="t" x1="39.50" y1="140.06" x2="41.70" y2="140.06"/>
<line class="t" x1="39.50" y1="132.18" x2="41.70" y2="132.18"/>
<line class="t" x1="39.50" y1="124.30" x2="43.10" y2="124.30"/>
<line class="t" x1="39.50" y1="116.42" x2="41.70" y2="116.42"/>
<line class="t" x1="39.50" y1="108.54" x2="41.70" y2="108.54"/>
<line class="t" x1="39.50" y1="100.66" x2="41.70" y2="100.66"/>
<line class="t" x1="39.50" y1="92.78" x2="41.70" y2="92.78"/>
<line class="t" x1="39.50" y1="84.90" x2="43.10" y2="84.90"/>
<line class="t" x1="39.50" y1="77.02" x2="41.70" y2="77.02"/>
<line class="t" x1="39.50" y1="69.14" x2="41.70" y2="69.14"/>
<line class="t" x1="39.50" y1="61.26" x2="41.70" y2="61.26"/>
<line class="t" x1="39.50" y1="53.38" x2="41.70" y2="53.38"/>
<line class="t" x1="39.50" y1="45.50" x2="43.10" y2="45.50"/>
<line class="t" x1="39.50" y1="242.50" x2="39.50" y2="238.90"/>
<line class="t" x1="55.45" y1="242.50" x2="55.45" y2="240.30"/>
<line class="t" x1="71.41" y1="242.50" x2="71.41" y2="240.30"/>
<line class="t" x1="87.37" y1="242.50" x2="87.37" y2="240.30"/>
<line class="t" x1="103.32" y1="242.50" x2="103.32" y2="238.90"/>
<line class="t" x1="119.28" y1="242.50" x2="119.28" y2="240.30"/>
<line class="t" x1="135.23" y1="242.50" x2="135.23" y2="240.30"/>
<line class="t" x1="151.19" y1="242.50" x2="151.19" y2="240.30"/>
<line class="t" x1="167.14" y1="242.50" x2="167.14" y2="238.90"/>
<line class="t" x1="183.09" y1="242.50" x2="183.09" y2="240.30"/>
<line class="t" x1="199.05" y1="242.50" x2="199.05" y2="240.30"/>
<line class="t" x1="215.00" y1="242.50" x2="215.00" y2="240.30"/>
<line class="t" x1="230.96" y1="242.50" x2="230.96" y2="238.90"/>
<line class="t" x1="246.91" y1="242.50" x2="246.91" y2="240.30"/>
<line class="t" x1="262.87" y1="242.50" x2="262.87" y2="240.30"/>
<line class="t" x1="278.82" y1="242.50" x2="278.82" y2="240.30"/>
<line class="t" x1="294.78" y1="242.50" x2="294.78" y2="238.90"/>
<line class="t" x1="310.74" y1="242.50" x2="310.74" y2="240.30"/>
<line class="t" x1="326.69" y1="242.50" x2="326.69" y2="240.30"/>
<line class="t" x1="342.64" y1="242.50" x2="342.64" y2="240.30"/>
<line class="t" x1="358.60" y1="242.50" x2="358.60" y2="238.90"/>
</g>
<g class="tk">
<text transform="translate(36.30,249.30) scale(1,1.05)" text-anchor="end">0.00</text>
<text transform="translate(36.30,209.90) scale(1,1.05)" text-anchor="end">0.01</text>
<text transform="translate(36.30,170.50) scale(1,1.05)" text-anchor="end">0.02</text>
<text transform="translate(36.30,131.10) scale(1,1.05)" text-anchor="end">0.03</text>
<text transform="translate(36.30,91.70) scale(1,1.05)" text-anchor="end">0.04</text>
<text transform="translate(36.30,52.30) scale(1,1.05)" text-anchor="end">0.05</text>
<text transform="translate(39.10,262.00) scale(1,1.04)" text-anchor="middle">0</text>
<text transform="translate(102.92,262.00) scale(1,1.04)" text-anchor="middle">2</text>
<text transform="translate(166.74,262.00) scale(1,1.04)" text-anchor="middle">4</text>
<text transform="translate(230.56,262.00) scale(1,1.04)" text-anchor="middle">6</text>
<text transform="translate(294.38,262.00) scale(1,1.04)" text-anchor="middle">8</text>
<text transform="translate(358.80,262.00) scale(1,1.04)" text-anchor="middle">10</text>
</g>
<g fill="#fff"><rect x="26.0" y="207.6" width="4.66" height="3"/><rect x="32.27" y="207.6" width="3.7" height="3"/><rect x="348.6" y="259.6" width="4.58" height="3"/><rect x="354.76" y="259.6" width="3.6" height="3"/></g>
<text transform="translate(12.9,35.9) scale(1,0.95)" font-size="19">Power</text>
<text x="367.7" y="249.3" font-size="18.5" font-style="italic">&#964;</text>
<text transform="translate(180,16) scale(1,1.04)" font-size="16"><tspan font-style="italic">&#947;</tspan>=0.6</text>
<g>
<line class="crv" x1="265.1" y1="135.2" x2="300.8" y2="135.2" stroke="#000" style="stroke-width:2.2" stroke-dasharray="3.1 1.57"/>
<line class="crv" x1="265.1" y1="152.9" x2="302.6" y2="152.9" stroke="#f00"/>
<line class="crv" x1="265.1" y1="171.0" x2="300.9" y2="171.0" stroke="#0000ff" stroke-dasharray="5.85 1.7"/>
<text x="307.3" y="138.5" font-size="11.2">P no cost</text>
<text x="307.3" y="156.1" font-size="11.2"><tspan font-style="italic">P</tspan><tspan font-size="8.4" dy="2.1">STA</tspan></text>
<text x="307.3" y="174.0" font-size="11.2"><tspan font-style="italic">P</tspan><tspan font-size="8.4" dy="2.1">NA</tspan></text>
</g>
</svg>
</body></html>
